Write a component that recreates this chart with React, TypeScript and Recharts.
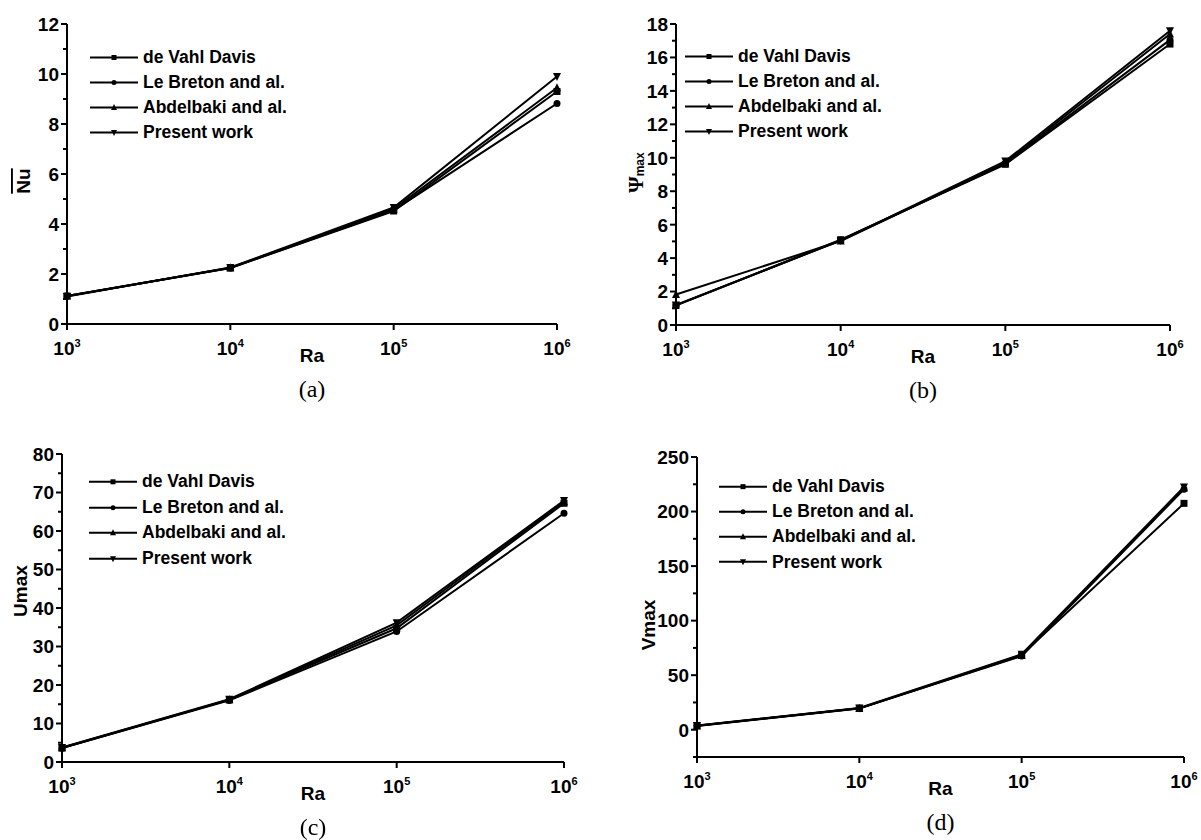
import React from "react"
import { LineChart, Line, XAxis, YAxis, Legend } from "recharts"

// Ra on a log axis
const raValues = [1e3, 1e4, 1e5, 1e6]
const raTicks = [1e3, 1e4, 1e5, 1e6]
const raExponents = ["3", "4", "5", "6"]

const seriesNames = ["de Vahl Davis", "Le Breton and al.", "Abdelbaki and al.", "Present work"]
const seriesKeys = ["davis", "breton", "abdelbaki", "present"]
const seriesMarkers = ["square", "circle", "triangle", "triangleDown"]

// (a) mean Nusselt number
const nuDavis = [1.12, 2.24, 4.52, 9.3]
const nuBreton = [1.12, 2.24, 4.55, 8.82]
const nuAbdelbaki = [1.12, 2.25, 4.6, 9.45]
const nuPresent = [1.1, 2.26, 4.66, 9.9]
const nuMajor = [0, 2, 4, 6, 8, 10, 12]
const nuMinor = [1, 3, 5, 7, 9, 11]

// (b) psi max
const psiDavis = [1.17, 5.1, 9.61, 16.8]
const psiBreton = [1.17, 5.07, 9.65, 17.05]
const psiAbdelbaki = [1.82, 5.02, 9.7, 17.4]
const psiPresent = [1.2, 5.05, 9.8, 17.6]
const psiMajor = [0, 2, 4, 6, 8, 10, 12, 14, 16, 18]
const psiMinor = [1, 3, 5, 7, 9, 11, 13, 15, 17]

// (c) Umax
const uDavis = [3.65, 16.18, 34.73, 67.2]
const uBreton = [3.6, 16.0, 33.9, 64.6]
const uAbdelbaki = [3.7, 16.2, 35.5, 67.6]
const uPresent = [3.75, 16.3, 36.2, 67.9]
const uMajor = [0, 10, 20, 30, 40, 50, 60, 70, 80]
const uMinor = [5, 15, 25, 35, 45, 55, 65, 75]

// (d) Vmax
const vDavis = [3.7, 19.6, 68.6, 207.5]
const vBreton = [3.7, 19.6, 67.5, 220.5]
const vAbdelbaki = [3.5, 19.4, 68.0, 221.5]
const vPresent = [3.8, 19.9, 69.2, 222.5]
const vMajor = [0, 50, 100, 150, 200, 250]
const vMinor = [-25, 25, 75, 125, 175, 225]

const SANS = "'Liberation Sans', Arial, sans-serif"
const SERIF = "'Liberation Serif', 'Times New Roman', serif"

function buildRows(cols: number[][]) {
  return raValues.map((ra, i) => {
    const row: Record<string, number> = { ra }
    seriesKeys.forEach((k, j) => {
      row[k] = cols[j][i]
    })
    return row
  })
}

function Marker({ shape, cx, cy, size }: { shape: string; cx: number; cy: number; size: number }) {
  const h = size / 2
  if (shape === "square") return <rect x={cx - h} y={cy - h} width={size} height={size} fill="#000" />
  if (shape === "circle") return <circle cx={cx} cy={cy} r={h} fill="#000" />
  if (shape === "triangle")
    return <polygon points={`${cx},${cy - h - 1} ${cx + h + 0.5},${cy + h} ${cx - h - 0.5},${cy + h}`} fill="#000" />
  return <polygon points={`${cx},${cy + h + 1} ${cx + h + 0.5},${cy - h} ${cx - h - 0.5},${cy - h}`} fill="#000" />
}

function LegendBox({ rowHeight }: { rowHeight: number }) {
  return (
    <div style={{ fontFamily: SANS, fontWeight: "bold", fontSize: 17.5, color: "#000", whiteSpace: "nowrap" }}>
      {seriesNames.map((name, i) => (
        <div key={name} style={{ display: "flex", alignItems: "center", height: rowHeight }}>
          <svg width={48} height={rowHeight} style={{ display: "block" }}>
            <line x1={0} x2={48} y1={rowHeight / 2} y2={rowHeight / 2} stroke="#000" strokeWidth={2} />
            <Marker shape={seriesMarkers[i]} cx={24} cy={rowHeight / 2} size={5} />
          </svg>
          <span style={{ marginLeft: 5 }}>{name}</span>
        </div>
      ))}
    </div>
  )
}

type PanelProps = {
  rows: Record<string, number>[]
  domain: [number, number]
  major: number[]
  minor: number[]
  title: React.ReactNode
  titleGap: number
  titleDy: number
  caption: string
  plot: { x0: number; y0: number; x1: number; y1: number }
  legendAt: { x: number; y: number; row: number }
}

const Y_W = 60
const X_H = 50
const M = { top: 10, right: 30, bottom: 0, left: 0 }

function Panel({ rows, domain, major, minor, title, titleGap, titleDy, caption, plot, legendAt }: PanelProps) {
  const left = plot.x0 - Y_W
  const top = plot.y0 - M.top
  const width = plot.x1 - plot.x0 + Y_W + M.right
  const height = plot.y1 - plot.y0 + X_H + M.top
  const yTicks = [...major, ...minor].sort((a, b) => a - b)

  return (
    <>
      <div style={{ position: "absolute", left, top }}>
        <LineChart width={width} height={height} data={rows} margin={M}>
          <XAxis
            dataKey="ra"
            type="number"
            scale="log"
            domain={[1000, 1000000]}
            ticks={raTicks}
            interval={0}
            height={X_H}
            tickSize={0}
            tickMargin={0}
            tickLine={false}
            axisLine={{ stroke: "#000", strokeWidth: 2 }}
            tick={(p: any) => {
              const idx = raTicks.indexOf(p.payload.value)
              return (
                <g key={`xb-${idx}`}>
                  <line x1={p.x} x2={p.x} y1={p.y} y2={p.y + 6} stroke="#000" strokeWidth={2} />
                  <text x={p.x} y={p.y + 31} textAnchor="middle" fontFamily={SANS} fontWeight="bold" fontSize={19} fill="#000">
                    10<tspan dy={-8} fontSize={11}>{raExponents[idx]}</tspan>
                  </text>
                </g>
              )
            }}
            label={(p: any) => {
              const vb = p.viewBox
              return (
                <text x={vb.x + vb.width / 2} y={vb.y + 38} textAnchor="middle" fontFamily={SANS} fontWeight="bold" fontSize={19} fill="#000">
                  Ra
                </text>
              )
            }}
          />
          <XAxis
            xAxisId="top"
            orientation="top"
            dataKey="ra"
            type="number"
            scale="log"
            domain={[1000, 1000000]}
            ticks={raTicks.slice(1, 3)}
            interval={0}
            height={0}
            tickSize={0}
            tickMargin={0}
            tickLine={false}
            axisLine={{ stroke: "#000", strokeWidth: 2 }}
            tick={(p: any) => <line key={`xt-${p.index}`} x1={p.x} x2={p.x} y1={p.y - 3} y2={p.y + 3} stroke="#000" strokeWidth={1.5} />}
          />
          <YAxis
            type="number"
            domain={domain}
            ticks={yTicks}
            interval={0}
            width={Y_W}
            tickSize={0}
            tickMargin={0}
            tickLine={false}
            axisLine={{ stroke: "#000", strokeWidth: 2 }}
            tick={(p: any) => {
              const isMajor = major.includes(p.payload.value)
              return (
                <g key={`yl-${p.payload.value}`}>
                  <line x1={p.x} x2={p.x - (isMajor ? 6 : 4)} y1={p.y} y2={p.y} stroke="#000" strokeWidth={2} />
                  {isMajor && (
                    <text x={p.x - 8} y={p.y} dy="0.36em" textAnchor="end" fontFamily={SANS} fontWeight="bold" fontSize={19} fill="#000">
                      {p.payload.value}
                    </text>
                  )}
                </g>
              )
            }}
            label={(p: any) => {
              const vb = p.viewBox
              const cx = vb.x + vb.width - titleGap
              const cy = vb.y + vb.height / 2 + titleDy
              return (
                <text
                  x={cx}
                  y={cy}
                  transform={`rotate(-90 ${cx} ${cy})`}
                  textAnchor="middle"
                  dominantBaseline="central"
                  fontFamily={SANS}
                  fontWeight="bold"
                  fontSize={19}
                  fill="#000"
                >
                  {title}
                </text>
              )
            }}
          />
          <YAxis
            yAxisId="right"
            orientation="right"
            type="number"
            domain={domain}
            ticks={yTicks}
            interval={0}
            width={0}
            tickSize={0}
            tickMargin={0}
            tickLine={false}
            axisLine={{ stroke: "#000", strokeWidth: 2 }}
            tick={(p: any) => <line key={`yr-${p.payload.value}`} x1={p.x - 3} x2={p.x + 3} y1={p.y} y2={p.y} stroke="#000" strokeWidth={1.5} />}
          />
          <Legend
            layout="vertical"
            align="center"
            verticalAlign="middle"
            wrapperStyle={{ left: legendAt.x - left, top: legendAt.y - top }}
            content={() => <LegendBox rowHeight={legendAt.row} />}
          />
          {seriesKeys.map((k, i) => (
            <Line
              key={k}
              dataKey={k}
              name={seriesNames[i]}
              type="linear"
              stroke="#000"
              strokeWidth={2}
              activeDot={false}
              isAnimationActive={false}
              dot={(p: any) => <Marker key={`${k}-${p.index}`} shape={seriesMarkers[i]} cx={p.cx} cy={p.cy} size={7} />}
            />
          ))}
        </LineChart>
      </div>
      <div
        style={{
          position: "absolute",
          left: (plot.x0 + plot.x1) / 2 - 40,
          width: 80,
          top: plot.y1 + 52,
          textAlign: "center",
          fontFamily: SERIF,
          fontSize: 24,
          color: "#000",
        }}
      >
        {caption}
      </div>
    </>
  )
}

export default function App() {
  return (
    <div style={{ position: "fixed", left: 0, top: 0, width: 1201, height: 840, background: "#fff" }}>
      <Panel
        rows={buildRows([nuDavis, nuBreton, nuAbdelbaki, nuPresent])}
        domain={[0, 12]}
        major={nuMajor}
        minor={nuMinor}
        title={<tspan textDecoration="overline">Nu</tspan>}
        titleGap={44}
        titleDy={7}
        caption="(a)"
        plot={{ x0: 67, y0: 24, x1: 557, y1: 324 }}
        legendAt={{ x: 90, y: 44.5, row: 25 }}
      />
      <Panel
        rows={buildRows([psiDavis, psiBreton, psiAbdelbaki, psiPresent])}
        domain={[0, 18]}
        major={psiMajor}
        minor={psiMinor}
        title={
          <>
            <tspan fontFamily={SERIF} fontSize={21}>Ψ</tspan>
            <tspan fontSize={12} dy={4}>max</tspan>
          </>
        }
        titleGap={40}
        titleDy={-2}
        caption="(b)"
        plot={{ x0: 676, y0: 24, x1: 1170, y1: 325 }}
        legendAt={{ x: 685, y: 43.5, row: 25 }}
      />
      <Panel
        rows={buildRows([uDavis, uBreton, uAbdelbaki, uPresent])}
        domain={[0, 80]}
        major={uMajor}
        minor={uMinor}
        title="Umax"
        titleGap={42}
        titleDy={-17}
        caption="(c)"
        plot={{ x0: 62, y0: 454, x1: 564, y1: 762 }}
        legendAt={{ x: 89, y: 469, row: 25.6 }}
      />
      <Panel
        rows={buildRows([vDavis, vBreton, vAbdelbaki, vPresent])}
        domain={[-25, 250]}
        major={vMajor}
        minor={vMinor}
        title="Vmax"
        titleGap={49}
        titleDy={18}
        caption="(d)"
        plot={{ x0: 697, y0: 457, x1: 1184, y1: 757 }}
        legendAt={{ x: 719, y: 473.5, row: 25.3 }}
      />
    </div>
  )
}
